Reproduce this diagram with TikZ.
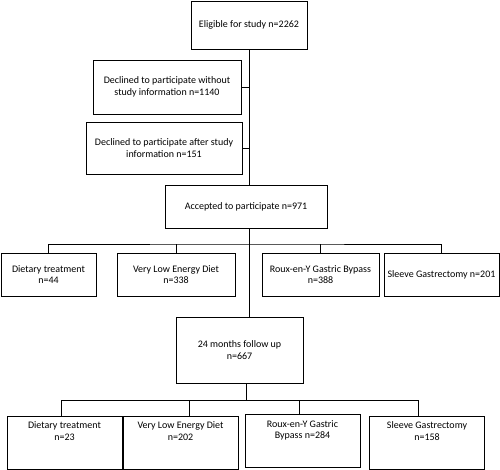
\documentclass[tikz,border=0pt]{standalone}
\usepackage{fontspec}
\setmainfont{Carlito}
\usetikzlibrary{positioning}
\usetikzlibrary{calc}
\tikzstyle{box}=[draw,line width=0.9pt,inner sep=2pt,align=center,font=\fontsize{10}{11.5}\selectfont]
\tikzstyle{lowbox}=[box,text height=22pt,text depth=27pt]
\tikzstyle{link} = [draw,line width=0.9pt]

\begin{document}
\begin{tikzpicture}[x=1pt,y=-1pt]
    \useasboundingbox (0,0) rectangle (500,470);

    % top of the chart
    \node[box,minimum width=116,minimum height=48] (elig) at (249,25) {Eligible for study n=2262};
    \node[box,minimum width=148,minimum height=54] (decl1) at (167,87) {Declined to participate without\\study information n=1140};
    \node[box,minimum width=156,minimum height=52] (decl2) at (164,148) {Declined to participate after study\\information n=151};
    \node[box,minimum width=162,minimum height=43] (acc) at (246,206.5) {Accepted to participate n=971};

    % treatment groups
    \foreach \pos/\w/\name/\txt in {{(48.5,274.5)/95/dt1/{Dietary treatment\\n=44}}, {(176,274.5)/118/vl1/{Very Low Energy Diet\\n=338}},
                                    {(320.5,274.5)/117/rg1/{Roux-en-Y Gastric Bypass\\n=388}}, {(441.5,274.5)/115/sg1/{Sleeve Gastrectomy n=201}}}
        \node[box,minimum width=\w,minimum height=43] (\name) at \pos {\txt};

    \node[box,minimum width=127,minimum height=66] (fu) at (239.5,350) {24 months follow up\\n=667};

    % groups at follow up
    \foreach \pos/\name/\txt in {{(64.5,442.5)/dt2/{Dietary treatment\\n=23}}, {(180.5,442.5)/vl2/{Very Low Energy Diet\\n=202}},
                                 {(302.5,441)/rg2/{Roux-en-Y Gastric\\Bypass n=284}}, {(427,442.5)/sg2/{Sleeve Gastrectomy\\n=158}}}
        \node[lowbox,minimum width=115,minimum height=53] (\name) at \pos {\txt};

    \coordinate (bar1) at (249,244);
    \coordinate (bar2) at (246.5,400.5);

    \path[link] (elig.south) -- (elig.south |- acc.north);
    \foreach \name in {decl1, decl2}
        \path[link] (\name.east) -- (\name.east -| elig.south);
    \path[link] (elig.south |- acc.south) -- (bar1);
    \path[link] (bar1) -- (bar1 |- fu.north);
    \path[link] (dt1.north) |- (bar1) -| (sg1.north);
    \foreach \name in {vl1, rg1}
        \path[link] (\name.north) -- (\name.north |- bar1);

    \path[link] (fu.south -| bar2) -- (bar2);
    \path[link] ([xshift=-3.5]dt2.north) |- (bar2) -| ([xshift=-9]sg2.north);
    \foreach \name/\dx in {vl2/8.5, rg2/-3.5}
        \path[link] ([xshift=\dx]\name.north) -- ([xshift=\dx]\name.north |- bar2);

\end{tikzpicture}
\end{document}
